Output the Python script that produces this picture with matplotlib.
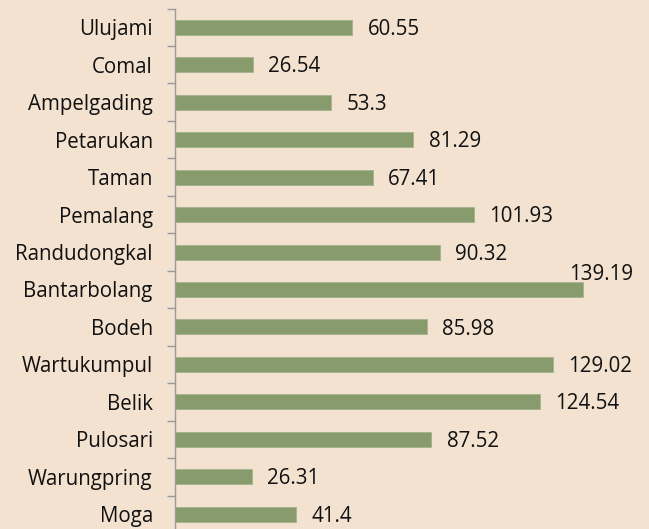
import matplotlib
matplotlib.use("Agg")
import matplotlib.pyplot as plt
import numpy as np

categories = ["Ulujami", "Comal", "Ampelgading", "Petarukan", "Taman", "Pemalang",
              "Randudongkal", "Bantarbolang", "Bodeh", "Wartukumpul", "Belik",
              "Pulosari", "Warungpring", "Moga"]
values = [60.55, 26.54, 53.3, 81.29, 67.41, 101.93, 90.32, 139.19, 85.98,
          129.02, 124.54, 87.52, 26.31, 41.4]
value_labels = ["60.55", "26.54", "53.3", "81.29", "67.41", "101.93", "90.32",
                "139.19", "85.98", "129.02", "124.54", "87.52", "26.31", "41.4"]

W, H = 649, 529
bg = "#f3e2cf"
bar_color = "#879b6d"
fs = 14.8

plt.rcParams['font.family'] = ['Open Sans', 'DejaVu Sans']

fig = plt.figure(figsize=(W / 100, H / 100), dpi=100, facecolor=bg)
x0, x1 = 175, 585
ytop, ybot = 8.5, 533
ax = fig.add_axes([x0 / W, (H - ybot) / H, (x1 - x0) / W, (ybot - ytop) / H])
ax.set_facecolor(bg)

y = np.arange(len(categories))
ax.barh(y, values, height=0.4, color=bar_color, edgecolor="#a3b48c", linewidth=0.6, zorder=2)
ax.set_xlim(0, 139.9)
ax.set_ylim(len(categories) - 0.5, -0.5)

for i, (v, lab) in enumerate(zip(values, value_labels)):
    if v > 135:
        ax.annotate(lab, xy=(v, i), xytext=(-10, 11), textcoords="offset points",
                    ha="left", va="center", fontsize=fs, color="#111111",
                    annotation_clip=False)
    else:
        ax.annotate(lab, xy=(v, i), xytext=(11, -1.5), textcoords="offset points",
                    ha="left", va="center", fontsize=fs, color="#111111",
                    annotation_clip=False)

for s in ["top", "right", "bottom"]:
    ax.spines[s].set_visible(False)
ax.spines["left"].set_color("#9a9a9a")
ax.spines["left"].set_linewidth(1.0)
ax.set_xticks([])
ax.set_yticks(y)
ax.set_yticklabels(categories, fontsize=fs, color="#111111")
ax.tick_params(axis="y", which="major", length=0, pad=16)
ax.set_yticks(np.arange(-0.5, len(categories) + 0.5, 1), minor=True)
ax.tick_params(axis="y", which="minor", length=6, color="#9a9a9a", width=1.0)

fig.savefig("out.png", dpi=100, facecolor=bg)
